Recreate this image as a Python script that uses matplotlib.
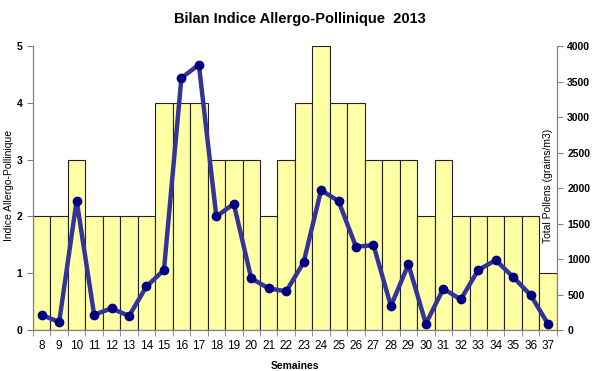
import matplotlib
matplotlib.use("Agg")
import matplotlib.pyplot as plt
import numpy as np

plt.rcParams['font.family'] = ['Liberation Sans', 'DejaVu Sans']

semaines = list(range(8, 38))
indice = [2, 2, 3, 2, 2, 2, 2, 4, 4, 4, 3, 3, 3, 2, 3,
          4, 5, 4, 4, 3, 3, 3, 2, 3, 2, 2, 2, 2, 2, 1]
pollens = [211, 113, 1824, 216, 305, 197, 614, 844, 3550, 3737,
           1599, 1777, 727, 586, 544, 952, 1970, 1815, 1172, 1196,
           338, 924, 89, 581, 431, 844, 985, 746, 492, 84]

fig = plt.figure(figsize=(6, 3.71), dpi=100)
ax1 = fig.add_axes([0.055, 0.1105, 0.873, 0.7655])
ax2 = ax1.twinx()

x = np.arange(len(semaines))
ax1.bar(x, indice, width=1.0, color='#FFFFA6', edgecolor='#222222',
        linewidth=0.8, zorder=2)
ax1.set_xlim(-0.5, len(semaines) - 0.5)
ax1.set_ylim(0, 5)
ax1.set_yticks(range(0, 6))
ax1.set_xticks(x)
ax1.set_xticklabels([str(s) for s in semaines], fontsize=8.5)
ax1.set_xticks(np.arange(-0.5, len(semaines)), minor=True)
ax1.tick_params(axis='x', which='major', length=0, pad=7)
ax1.tick_params(axis='x', which='minor', length=4, color='#808080')
ax1.tick_params(axis='y', length=4, color='#808080', labelsize=7.5)
for lbl in ax1.get_yticklabels():
    lbl.set_fontweight('bold')

ax2.plot(x, pollens, color='#333399', linewidth=3.2, marker='o',
         markersize=6, markerfacecolor='#000080', markeredgecolor='#000080',
         zorder=3)
ax2.set_ylim(0, 4000)
ax2.set_yticks(range(0, 4001, 500))
ax2.tick_params(axis='y', length=4, color='#808080', labelsize=7.5)
for lbl in ax2.get_yticklabels():
    lbl.set_fontweight('bold')

for ax in (ax1, ax2):
    ax.spines['top'].set_visible(False)
    for s in ('left', 'right', 'bottom'):
        ax.spines[s].set_color('#808080')

ax1.set_xlabel('Semaines', fontsize=7.5, fontweight='bold', labelpad=7)

# axis titles sit close to the edges, as in the original
fig.text(9 / 600, 0.5, 'Indice Allergo-Pollinique', rotation=90,
         ha='center', va='center', fontsize=7.5)
fig.text(548 / 600, 0.5, 'Total Pollens (grains/m3)', rotation=90,
         ha='center', va='center', fontsize=7.5)

fig.text(0.5, 0.95, 'Bilan Indice Allergo-Pollinique  2013', ha='center',
         va='center', fontsize=10.5, fontweight='bold')

fig.savefig('out.png', dpi=100)
